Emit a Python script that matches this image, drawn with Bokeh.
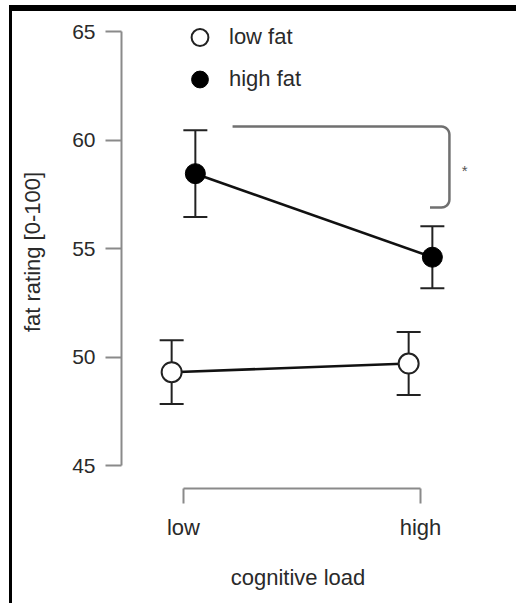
import numpy as np
from bokeh.plotting import figure
from bokeh.models import (ColumnDataSource, Range1d, FixedTicker, Whisker, TeeHead,
                          Legend, LegendItem)
from bokeh.transform import dodge
from bokeh.core.properties import value
from bokeh.embed import file_html
from bokeh.resources import INLINE

# ---- data ----
load_levels = ["low", "high"]
load_pos = [0, 1]
low_fat_mean = [49.3, 49.7]
low_fat_err = [1.47, 1.45]
high_fat_mean = [58.45, 54.6]
high_fat_err = [2.0, 1.43]
y_ticks = [45, 50, 55, 60, 65]

# significance bracket (data units)
sig_x_start = 0.207
sig_x_end = 1.122
sig_hook_x = 1.04
sig_top = 60.62
sig_bottom = 56.89
sig_star_x = 1.186
sig_star_y = 58.6

FONT = "Liberation Sans"
TXT = "#2a2a2a"
AX = "#8a8a8a"

W, H = 507, 598
p = figure(width=W, height=H, output_backend="svg", toolbar_location=None,
           x_range=Range1d(-0.2616, 1.2278), y_range=Range1d(43.94, 65.74),
           min_border_left=109, min_border_right=45, min_border_top=4,
           min_border_bottom=121)
p.styles = {"margin-top": "5px", "margin-left": "9px",
            "border-top": "6px solid black", "border-left": "3px solid black"}
p.xgrid.visible = False
p.ygrid.visible = False
p.outline_line_color = None
p.background_fill_color = "white"
p.border_fill_color = "white"

def src(mean, err):
    return ColumnDataSource(dict(
        x=load_pos, y=mean,
        upper=[m + e for m, e in zip(mean, err)],
        lower=[m - e for m, e in zip(mean, err)]))

s_low = src(low_fat_mean, low_fat_err)
s_high = src(high_fat_mean, high_fat_err)

DODGE = 0.05
for s, d in ((s_low, -DODGE), (s_high, DODGE)):
    w = Whisker(source=s, base=dodge("x", d), upper="upper", lower="lower",
                dimension="height", line_color="#222222", line_width=2,
                upper_head=TeeHead(size=24, line_color="#222222", line_width=2),
                lower_head=TeeHead(size=24, line_color="#222222", line_width=2),
                level="underlay")
    p.add_layout(w)

p.line(x=dodge("x", -DODGE), y="y", source=s_low, line_color="#111111", line_width=2.6)
p.line(x=dodge("x", DODGE), y="y", source=s_high, line_color="#111111", line_width=2.6)

r_low = p.scatter(x=dodge("x", -DODGE), y="y", source=s_low, size=20,
                  fill_color="white", line_color="#222222", line_width=2)
r_high = p.scatter(x=dodge("x", DODGE), y="y", source=s_high, size=20,
                   fill_color="black", line_color="black", line_width=1)

# significance bracket with rounded corners
rx = 8 / 237.0
ry = 8 / 21.7
t = np.linspace(0, np.pi / 2, 8)
bx = [sig_x_start, sig_x_end - rx]
by = [sig_top, sig_top]
bx += list(sig_x_end - rx + rx * np.sin(t))
by += list(sig_top - ry + ry * np.cos(t))
bx += [sig_x_end, sig_x_end]
by += [sig_top - ry, sig_bottom + ry]
bx += list(sig_x_end - rx + rx * np.cos(t))
by += list(sig_bottom + ry - ry * np.sin(t))
bx += [sig_hook_x]
by += [sig_bottom]
p.line(bx, by, line_color="#707070", line_width=2.5)
p.text(x=[sig_star_x], y=[sig_star_y], text=["*"], text_font=value(FONT),
       text_font_size="15px", text_color="#555555", text_align="center",
       text_baseline="middle")

# axes
xa = p.xaxis[0]
xa.ticker = FixedTicker(ticks=load_pos)
xa.major_label_overrides = {k: v for k, v in zip(load_pos, load_levels)}
xa.bounds = (0, 1)
xa.minor_tick_line_color = None
xa.major_tick_in = 0
xa.major_tick_out = 15
xa.axis_line_color = AX
xa.axis_line_width = 2
xa.major_tick_line_color = AX
xa.major_tick_line_width = 2
xa.major_label_text_font = FONT
xa.major_label_text_font_size = "22px"
xa.major_label_text_color = TXT
xa.major_label_standoff = 11
xa.axis_label = "cognitive load"
xa.axis_label_text_font = FONT
xa.axis_label_text_font_size = "22px"
xa.axis_label_text_font_style = "normal"
xa.axis_label_text_color = TXT
xa.axis_label_standoff = 22

ya = p.yaxis[0]
ya.ticker = FixedTicker(ticks=y_ticks)
ya.bounds = (45, 65)
ya.minor_tick_line_color = None
ya.major_tick_in = 0
ya.major_tick_out = 16
ya.axis_line_color = AX
ya.axis_line_width = 2
ya.major_tick_line_color = AX
ya.major_tick_line_width = 2
ya.major_label_text_font = FONT
ya.major_label_text_font_size = "21px"
ya.major_label_text_color = TXT
ya.major_label_standoff = 10
ya.axis_label = "fat rating [0-100]"
ya.axis_label_text_font = FONT
ya.axis_label_text_font_size = "22px"
ya.axis_label_text_font_style = "normal"
ya.axis_label_text_color = TXT
ya.axis_label_standoff = 24

legend = Legend(items=[LegendItem(label="low fat", renderers=[r_low]),
                       LegendItem(label="high fat", renderers=[r_high])],
                location=(56, 388), padding=0, margin=0, spacing=0,
                glyph_width=45, glyph_height=42, label_standoff=7,
                label_text_font=FONT, label_text_font_size="22px",
                label_text_color=TXT, border_line_alpha=0,
                background_fill_alpha=0)
p.add_layout(legend)

open("out.html", "w").write(file_html(p, INLINE))
